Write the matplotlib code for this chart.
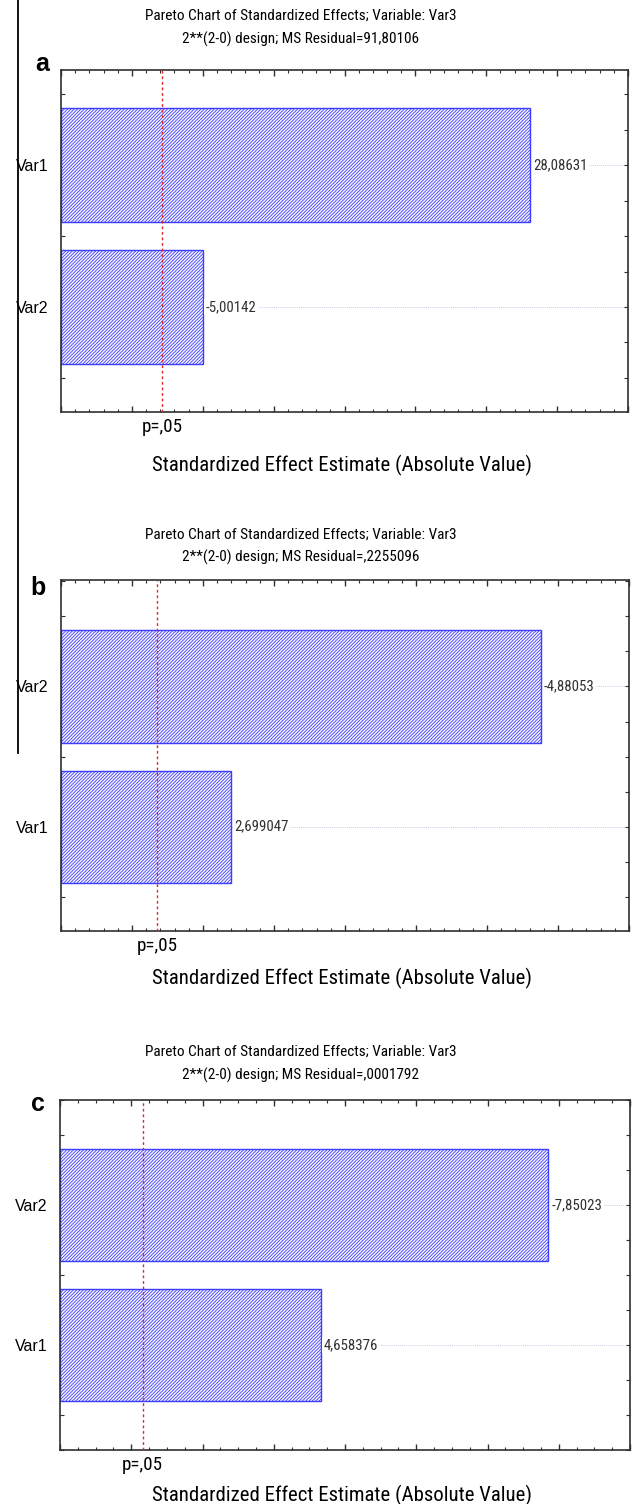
import matplotlib
matplotlib.use("Agg")
import matplotlib.pyplot as plt
import numpy as np
from matplotlib import font_manager
from matplotlib.lines import Line2D
from matplotlib.ticker import MultipleLocator

# effects for the three Pareto charts (a, b, c), ordered top to bottom
labels_a = ["Var1", "Var2"]
effects_a = [28.08631, -5.00142]
labels_b = ["Var2", "Var1"]
effects_b = [-4.88053, 2.699047]
labels_c = ["Var2", "Var1"]
effects_c = [-7.85023, 4.658376]

ms_residual = ["91,80106", ",2255096", ",0001792"]
t_crit = [2.12, 2.179, 2.16]          # p=.05 reference line
x_ranges = [(-5, 35), (1.5, 5.5), (1, 9)]
x_steps = [(5, 1), (0.5, 0.1), (1, 0.25)]
panel_letters = ["a", "b", "c"]

W, H = 633, 1504
REG = "Liberation Sans"

# use a condensed face for the chart texts when one is available
installed = {f.name for f in font_manager.fontManager.ttflist}
NARROW, narrow_k = REG, 1.0
for name in ["Liberation Sans Narrow", "Roboto Condensed", "Open Sans Condensed"]:
    if name in installed:
        NARROW, narrow_k = name, 1 / 0.85
        break


def nsize(pt):
    return pt * narrow_k


plt.rcParams["hatch.linewidth"] = 0.6

fig = plt.figure(figsize=(W / 100, H / 100), dpi=100)

# pixel boxes: left, top, right, bottom
boxes = [(61, 70, 628, 412), (61, 580, 629, 931), (60, 1100, 630, 1450)]
ylims = [(-0.67, 1.74), (-0.76, 1.745), (-0.75, 1.75)]
title_y = [(16, 39), (535, 557), (1052, 1075)]
letter_pos = [(42, 64), (38, 588), (38, 1104)]
xlabel_y = [465, 978, 1495]


def fx(px):
    return px / W


def fy(py):
    return 1 - py / H


def pareto(i, labels, effects):
    l, t, r, b = boxes[i]
    ax = fig.add_axes([fx(l), fy(b), (r - l) / W, (b - t) / H])
    xmin, xmax = x_ranges[i]
    ypos = np.arange(len(labels))
    size = np.abs(effects)

    for y in ypos:
        ax.axhline(y, color="#b4b9e6", lw=0.6, ls=(0, (1, 1.5)), zorder=0)
    ax.barh(ypos, size - xmin, left=xmin, height=0.8, color="#f6f6ff",
            edgecolor="#3c3cff", hatch="//////////", lw=1.0, zorder=2)
    for y, s, v in zip(ypos, size, effects):
        ax.annotate(str(v).replace(".", ","), (s, y), xytext=(2.2, 0),
                    textcoords="offset points", va="center", ha="left",
                    fontsize=nsize(9.1), family=NARROW, color="#303030", zorder=4,
                    bbox=dict(boxstyle="square,pad=0.1", fc="white", ec="none"))

    ax.axvline(t_crit[i], color="#e02828", lw=1.0, ls=(0, (2, 2)), zorder=3)
    ax.annotate("p=,05", (t_crit[i], 0), xycoords=("data", "axes fraction"),
                xytext=(0, -11), textcoords="offset points", ha="center",
                va="center", fontsize=nsize(11.6), family=NARROW)

    ax.set_xlim(xmin, xmax)
    ax.set_ylim(ylims[i][1], ylims[i][0])
    major, minor = x_steps[i]
    ax.xaxis.set_major_locator(MultipleLocator(major))
    ax.xaxis.set_minor_locator(MultipleLocator(minor))
    ax.set_yticks(ypos)
    ax.set_yticklabels(labels, fontsize=11.5, family=REG)
    ax.yaxis.set_minor_locator(MultipleLocator(0.25))
    ax.tick_params(axis="x", which="both", direction="in", top=True,
                   bottom=True, labelbottom=False, color="#303030")
    ax.tick_params(axis="x", which="major", length=4, width=1)
    ax.tick_params(axis="x", which="minor", length=2.5, width=0.8)
    ax.tick_params(axis="y", which="both", direction="in", left=True,
                   right=True, length=3, width=0.8, color="#303030")
    ax.tick_params(axis="y", which="major", pad=9)
    for sp in ax.spines.values():
        sp.set_color("#303030")
        sp.set_linewidth(1.2)

    cx = fx(301)
    fig.text(cx, fy(title_y[i][0]), "Pareto Chart of Standardized Effects; Variable: Var3",
             ha="center", va="center", fontsize=nsize(9.3), family=NARROW)
    fig.text(cx, fy(title_y[i][1]), f"2**(2-0) design; MS Residual={ms_residual[i]}",
             ha="center", va="center", fontsize=nsize(9.3), family=NARROW)
    fig.text(fx(letter_pos[i][0]), fy(letter_pos[i][1]), panel_letters[i],
             ha="center", va="center", fontsize=18, fontweight="bold", family=REG)
    fig.text(fx(342), fy(xlabel_y[i]), "Standardized Effect Estimate (Absolute Value)",
             ha="center", va="center", fontsize=nsize(12.7), family=NARROW)
    return ax


pareto(0, labels_a, effects_a)
pareto(1, labels_b, effects_b)
pareto(2, labels_c, effects_c)

# page border line running down the left side
fig.add_artist(Line2D([fx(18), fx(18)], [1, fy(753)], color="black", lw=1.3))

fig.savefig("out.png", dpi=100)
